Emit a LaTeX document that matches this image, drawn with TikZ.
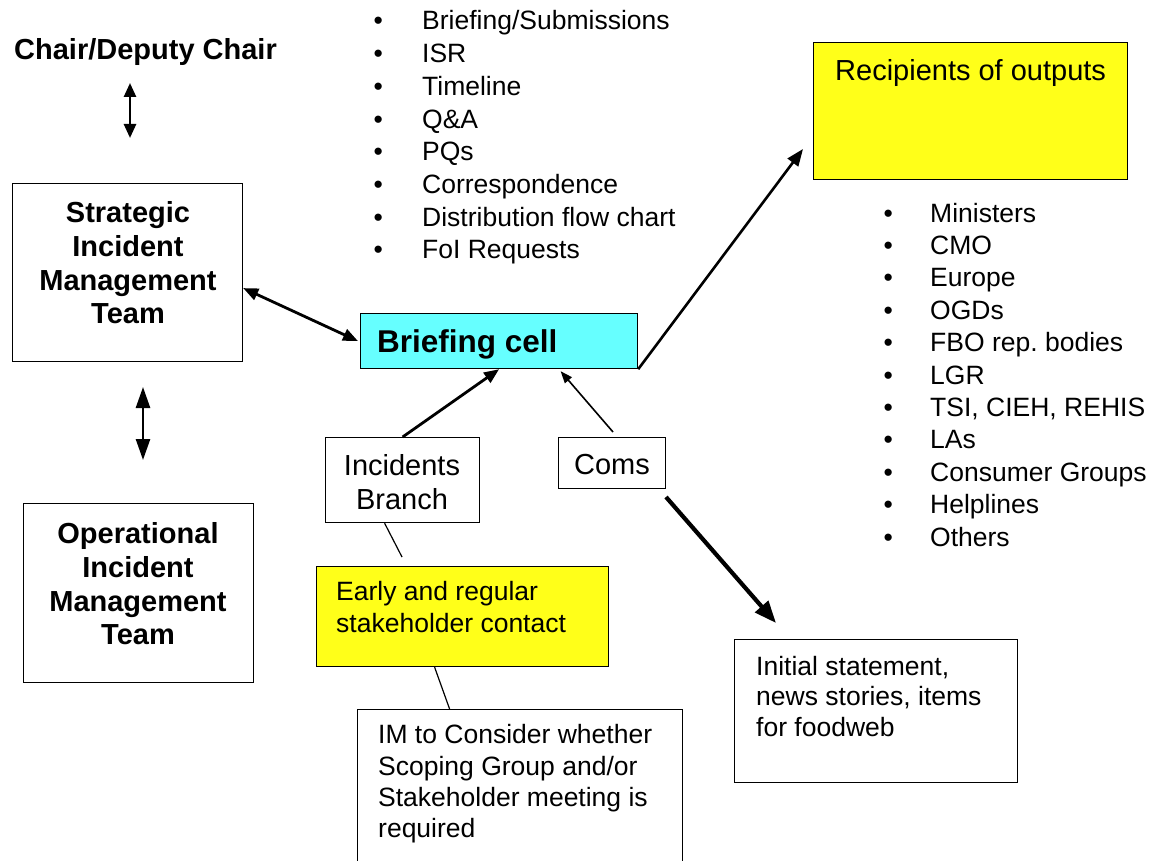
\documentclass[tikz,border=0pt]{standalone}
\usepackage{fontspec}
\setmainfont{Liberation Sans}
\usetikzlibrary{arrows.meta}
\definecolor{ylw}{RGB}{255,255,25}
\definecolor{cyn}{RGB}{102,255,255}
\frenchspacing
\begin{document}
\frenchspacing
\begin{tikzpicture}[x=1pt,y=-1pt,
  box/.style={draw, line width=1.2pt, inner sep=0pt, anchor=north west},
  sm/.style={inner sep=0pt, anchor=base west, font=\fontsize{26.5}{31}\selectfont},
  smblock/.style={inner sep=0pt, anchor=north west, align=left},
  md/.style={inner sep=0pt, font=\fontsize{29}{34}\selectfont},
  bd/.style={inner sep=0pt, align=center, font=\bfseries\fontsize{29}{33.7}\selectfont},
  arr/.style={line width=2.8pt, -{Triangle[length=15pt,width=12pt]}},
  darr/.style={line width=2.8pt, {Triangle[length=15pt,width=12pt]}-{Triangle[length=15pt,width=12pt]}},
  thin/.style={line width=1.2pt}]
\useasboundingbox (0,0) rectangle (1158,861);

% Chair
\node[inner sep=0pt, anchor=base west, font=\bfseries\fontsize{29}{34}\selectfont] (chair) at (14,60) {Chair/Deputy Chair};
\coordinate (ca) at (130,83);
\coordinate (cb) at (130,138);
\draw[line width=2.6pt, {Triangle[length=14pt,width=12pt]}-{Triangle[length=14pt,width=12pt]}] (ca) -- (cb);

% Strategic
\node[box, minimum width=230pt, minimum height=178pt] (smt) at (12,183) {};
\node[bd] (smtt) at (128,263) {Strategic\\Incident\\Management\\Team};

% Strategic / Operational arrow
\coordinate (oa) at (143,387);
\coordinate (ob) at (143,460);
\draw[line width=2.6pt, {Triangle[length=21pt,width=14pt]}-{Triangle[length=21pt,width=14pt]}] (oa) -- (ob);

% Operational
\node[box, minimum width=230pt, minimum height=179pt] (omt) at (23,503) {};
\node[bd] (omtt) at (138,584) {Operational\\Incident\\Management\\Team};

% Bullet list 1
\foreach \t [count=\i from 0] in {Briefing/Submissions, ISR, Timeline, Q\&A, PQs, Correspondence, Distribution flow chart, FoI Requests}
  \node[sm] (b\i) at (373.5,{30+32.7*\i}) {\makebox[48.5pt][l]{•}\t};

% Recipients
\node[box, fill=ylw, minimum width=314pt, minimum height=137pt] (rec) at (813,42) {};
\node[md, anchor=base west] (rect) at (835,81) {Recipients of outputs};

% Bullet list 2
\foreach \t [count=\i from 0] in {Ministers, CMO, Europe, OGDs, FBO rep. bodies, LGR, {TSI, CIEH, REHIS}, LAs, Consumer Groups, Helplines, Others}
  \node[sm] (r\i) at (883.5,{222+32.4*\i}) {\makebox[46.5pt][l]{•}\t};

% Briefing cell
\node[box, fill=cyn, minimum width=277pt, minimum height=55pt] (bc) at (360,313) {};
\node[inner sep=0pt, anchor=base west, font=\bfseries\fontsize{31.5}{36}\selectfont] (bct) at (377,352) {Briefing cell};

% Incidents Branch
\node[box, minimum width=154pt, minimum height=85pt] (inc) at (325,437) {};
\node[md, align=center] (inct) at (402,482) {Incidents\\Branch};

% Coms
\node[box, minimum width=107pt, minimum height=51pt] (coms) at (558,437) {};
\node[md, anchor=base] (comst) at (612,474) {Coms};

% Early and regular
\node[box, fill=ylw, minimum width=292pt, minimum height=100pt] (early) at (316,566) {};
\node[smblock, font=\fontsize{26.5}{32}\selectfont] (earlyt) at (336,581) {Early and regular\\stakeholder contact};

% IM box
\node[box, minimum width=325pt, minimum height=170pt] (im) at (357,709) {};
\node[smblock, font=\fontsize{26.5}{31.2}\selectfont] (imt) at (378,724.5) {IM to Consider whether\\Scoping Group and/or\\Stakeholder meeting is\\required};

% Initial statement
\node[box, minimum width=283pt, minimum height=143pt] (init) at (734,639) {};
\node[smblock, font=\fontsize{26.5}{30.5}\selectfont] (initt) at (756,656) {Initial statement,\\news stories, items\\for foodweb};

% Connectors
\draw[darr] ([yshift=-15.5pt]smt.east) -- ([xshift=-2pt]bc.west);
\coordinate (rtip) at (803,149);
\draw[arr, line width=2.6pt, -{Triangle[length=17pt,width=13pt]}] (bc.south east) -- (rtip);
\draw[arr, -{Triangle[length=15pt,width=12pt]}] (inc.north) -- (bc.south);
\coordinate (cstart) at (613,432);
\draw[line width=1.6pt, -{Triangle[length=12pt,width=9pt]}] (cstart) -- ([xshift=61.5pt,yshift=-2pt]bc.south);
\coordinate (c2start) at (666,497);
\coordinate (itip) at (776,623);
\draw[line width=4.2pt, -{Triangle[length=22pt,width=17pt]}] (c2start) -- (itip);
\coordinate (eend) at (402,557);
\draw[thin] ([xshift=-18pt]inc.south) -- (eend);
\draw[thin] ([xshift=-28pt]early.south) -- ([xshift=-70.5pt]im.north);
\end{tikzpicture}
\end{document}
